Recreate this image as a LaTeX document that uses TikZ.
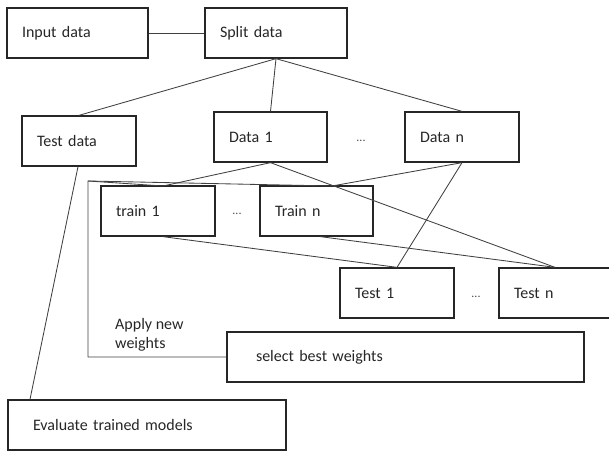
\documentclass[tikz,border=0pt]{standalone}
\usepackage{fontspec}
\setmainfont{Carlito}
\begin{document}
\begin{tikzpicture}[x=1pt,y=-1pt,
  box/.style={draw=black!85, line width=1.3pt, minimum height=50pt, inner xsep=15pt, inner ysep=0pt, align=left, font=\fontsize{16}{19}\selectfont, text=black!85},
  conn/.style={draw=black!75, line width=0.85pt},
  lbl/.style={font=\fontsize{16}{19}\selectfont, text=black!85, inner sep=0pt},
  dots/.style={font=\fontsize{12}{14}\selectfont, text=black!70, inner sep=0pt}]
\useasboundingbox (0,0) rectangle (609,452);
\node[box, text width=111pt] (input) at (77.5,33) {Input data};
\node[box, text width=112pt] (split) at (276,33) {Split data};
\node[box, text width=84pt] (testdata) at (79,141) {Test data};
\node[box, text width=83pt] (data1) at (270.5,137) {Data 1};
\node[box, text width=84pt] (datan) at (462,137) {Data n};
\node[box, text width=84pt] (train1) at (158,211) {train 1};
\node[box, text width=83pt] (trainn) at (316.5,211) {Train n};
\node[box, text width=84pt] (test1) at (397,293) {Test 1};
\node[box, text width=82pt] (testn) at (555,293) {Test n};
\node[box, inner xsep=29pt, text width=299pt] (select) at (405.5,357) {select best weights};
\node[box, inner xsep=25pt, text width=228pt] (eval) at (147,425) {Evaluate trained models};
\node[dots] (d1) at (361,141) {...};
\node[dots] (d2) at (237,214) {...};
\node[dots] (d3) at (476,297) {...};
\node[lbl, anchor=north west, align=left] (apply) at (115,318) {Apply new\\weights};
\coordinate (lt) at (88,181);
\coordinate (lb) at (88,357);
\coordinate (tr1) at (163,186);
\coordinate (trn) at (332,186);
\draw[conn] (input.east) -- (split.west);
\draw[conn] (split.south) -- (testdata.north);
\draw[conn] (split.south) -- (data1.north);
\draw[conn] (split.south) -- (datan.north);
\draw[conn] (data1.south) -- (tr1);
\draw[conn] (data1.south) -- (testn.north);
\draw[conn] (datan.south) -- (trn);
\draw[conn] (datan.south) -- (test1.north);
\draw[conn] ([xshift=5pt]train1.south) -- (test1.north);
\draw[conn] ([xshift=4pt]trainn.south) -- (testn.north);
\draw[conn] (select.west) -- (lb) -- (lt) -- (trn);
\draw[conn] (lt) -- (tr1);
\draw[conn] ([xshift=-1pt]testdata.south) -- ([xshift=-117pt]eval.north);
\end{tikzpicture}
\end{document}
